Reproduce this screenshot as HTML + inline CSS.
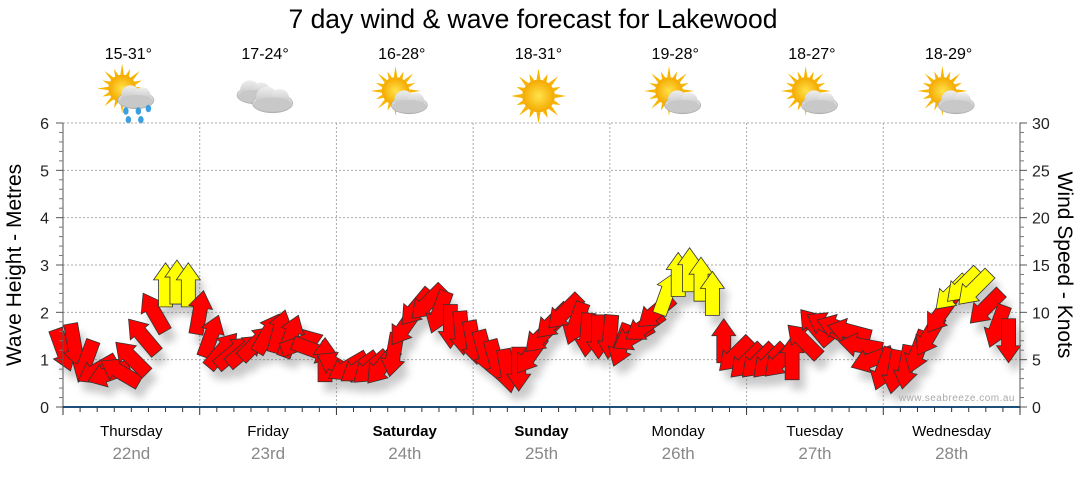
<!DOCTYPE html>
<html><head><meta charset="utf-8">
<style>
body{margin:0;background:#fff;width:1080px;height:475px;overflow:hidden;font-family:"Liberation Sans","DejaVu Sans",sans-serif;}
svg text{font-family:"Liberation Sans","DejaVu Sans",sans-serif;}
</style></head>
<body>
<svg id="chart" width="1080" height="475" xmlns="http://www.w3.org/2000/svg">
<defs>
<filter id="sh" x="-50%" y="-50%" width="200%" height="200%"><feGaussianBlur stdDeviation="4"/></filter>
<radialGradient id="sunG"><stop offset="0" stop-color="#ffe34a"/><stop offset="1" stop-color="#f5a800"/></radialGradient>
<linearGradient id="cloudG" x1="0" y1="0" x2="0" y2="1"><stop offset="0" stop-color="#eeeeee"/><stop offset="1" stop-color="#b8b8b8"/></linearGradient>
</defs>
<text x="533" y="28" text-anchor="middle" font-size="26.5" fill="#000">7 day wind &amp; wave forecast for Lakewood</text>
<g id="header"></g>
<g id="grid"></g>
<g id="shadows" filter="url(#sh)" opacity="0.35"></g>
<g id="arrows"></g>
<g id="axes"></g>
<text x="1015" y="401" text-anchor="end" font-size="10" fill="#aaa" letter-spacing="0.5">www.seabreeze.com.au</text>
<text transform="translate(21,265) rotate(-90)" text-anchor="middle" font-size="21" fill="#000">Wave Height - Metres</text>
<text transform="translate(1058,265) rotate(90)" text-anchor="middle" font-size="21" fill="#000">Wind Speed - Knots</text>
</svg>
<script>
const dayNames=["Thursday","Friday","Saturday","Sunday","Monday","Tuesday","Wednesday"];
const dayDates=["22nd","23rd","24th","25th","26th","27th","28th"];
const dayBold=[false,false,true,true,false,false,false];
const tempRanges=["15-31°","17-24°","16-28°","18-31°","19-28°","18-27°","18-29°"];
const weatherIcons=["sun-rain","cloud","sun-cloud","sun","sun-cloud","sun-cloud","sun-cloud"];
const leftTicks=[0,1,2,3,4,5,6];
const rightTicks=[0,5,10,15,20,25,30];
// wind speed (knots) every 2 hours from Thursday 00:00
const windSpeed=[6.0,6.5,4.8,3.9,3.5,3.7,5.2,7.5,10.0,12.9,13.2,12.9,
 10.0,7.5,6.0,5.8,6.0,6.8,7.8,8.0,7.5,6.8,6.0,5.0,
 4.4,4.2,4.1,4.1,4.3,5.5,8.5,10.5,11.0,10.0,8.5,7.8,
 6.8,5.8,4.8,3.8,4.0,5.5,7.5,9.0,10.0,8.8,7.6,7.4,
 7.4,6.5,7.4,8.5,10.0,12.0,14.0,14.5,13.5,12.0,7.0,5.5,
 4.8,4.8,4.8,4.9,5.2,7.0,8.5,8.6,8.4,8.0,6.5,5.0,
 4.0,3.7,4.2,5.8,7.5,9.8,12.0,12.8,12.5,10.5,8.5,7.0];
// arrow pointing direction (degrees clockwise from up)
const windDir=[160,170,200,240,250,300,315,320,330,0,0,0,
 10,20,40,50,50,45,30,15,20,70,110,0,
 300,240,235,230,220,190,215,220,225,200,180,175,
 170,165,165,170,180,215,225,225,225,200,185,180,
 185,200,240,235,230,20,0,0,0,0,0,225,
 225,225,225,225,0,315,320,300,290,285,280,250,
 200,190,190,200,210,215,225,225,225,225,200,180];

const X0=63,X1=1020,Y0=407,Y1=123,HOURS=168,STEP=2;
const xScale=h=>X0+(X1-X0)*h/HOURS;
const yLeft=m=>Y0-(Y0-Y1)*m/6;
const yRight=k=>Y0-(Y0-Y1)*k/30;
const NS="http://www.w3.org/2000/svg";
function mk(tag,attrs,parent){const e=document.createElementNS(NS,tag);for(const k in attrs)e.setAttribute(k,attrs[k]);parent.appendChild(e);return e;}

const grid=document.getElementById('grid'),axes=document.getElementById('axes'),header=document.getElementById('header');
leftTicks.forEach(v=>{if(v===0)return;const l=mk('line',{x1:X0,x2:X1,y1:yLeft(v),y2:yLeft(v),stroke:'#aaa','stroke-dasharray':'2,2'},grid);

});
for(let d=1;d<7;d++){const x=xScale(d*24);const l=mk('line',{x1:x,x2:x,y1:Y1,y2:Y0,stroke:'#aaa','stroke-dasharray':'2,2'},grid);

}
mk('line',{x1:X0,x2:X0,y1:Y1,y2:Y0,stroke:'#555'},axes);
mk('line',{x1:X1,x2:X1,y1:Y1,y2:Y0,stroke:'#555'},axes);
mk('line',{x1:X0,x2:X1,y1:Y0,y2:Y0,stroke:'#1d4f7a','stroke-width':2},axes);
leftTicks.forEach(v=>{const y=yLeft(v);mk('line',{x1:X0-7,x2:X0,y1:y,y2:y,stroke:'#555'},axes);
const t=mk('text',{x:X0-14,y:y+6,'text-anchor':'end','font-size':16,fill:'#222'},axes);t.textContent=v;

});
for(let i=1;i<30;i++){if(i%5===0)continue;const y=yLeft(i/5);mk('line',{x1:X0-4,x2:X0,y1:y,y2:y,stroke:'#777'},axes);mk('line',{x1:X1,x2:X1+4,y1:yRight(i),y2:yRight(i),stroke:'#777'},axes);}
rightTicks.forEach(v=>{const y=yRight(v);mk('line',{x1:X1,x2:X1+7,y1:y,y2:y,stroke:'#555'},axes);
const t=mk('text',{x:X1+12,y:y+6,'font-size':16,fill:'#222'},axes);t.textContent=v;

});
for(let h=0;h<=HOURS;h+=3){const x=xScale(h);mk('line',{x1:x,x2:x,y1:Y0,y2:Y0+(h%24===0?8:5),stroke:'#333'},axes);}
dayNames.forEach((n,i)=>{const cx=xScale(i*24+12);
const t=mk('text',{x:cx,y:436,'text-anchor':'middle','font-size':15,fill:'#000','font-weight':dayBold[i]?'bold':'normal'},header);t.textContent=n;


const d=mk('text',{x:cx,y:459,'text-anchor':'middle','font-size':17,fill:'#888'},header);d.textContent=dayDates[i];


const tt=mk('text',{x:cx-3,y:59,'text-anchor':'middle','font-size':16,fill:'#000'},header);tt.textContent=tempRanges[i];


const g=mk('g',{transform:`translate(${cx-3},96) scale(1.25)`},header);


drawIcon(g,weatherIcons[i]);});
function drawIcon(g,type){
 const sun=(ox,oy,r)=>{for(let a=0;a<360;a+=22.5){const rad=a*Math.PI/180;const r2=(a/22.5)%2?r+6:r+9;
  mk('polygon',{points:`${ox+Math.cos(rad)*r2},${oy+Math.sin(rad)*r2} ${ox+Math.cos(rad+0.13)*r},${oy+Math.sin(rad+0.13)*r} ${ox+Math.cos(rad-0.13)*r},${oy+Math.sin(rad-0.13)*r}`,fill:'#f7b500'},g);}
  mk('circle',{cx:ox,cy:oy,r:r,fill:'url(#sunG)'},g);};
 const cloud=(ox,oy,s)=>{mk('ellipse',{cx:ox,cy:oy+4*s,rx:17*s,ry:8*s,fill:'url(#cloudG)',stroke:'#aaa','stroke-width':0.5},g);
  mk('circle',{cx:ox-5*s,cy:oy-1*s,r:9*s,fill:'url(#cloudG)'},g);mk('circle',{cx:ox+6*s,cy:oy,r:8*s,fill:'url(#cloudG)'},g);
  mk('ellipse',{cx:ox,cy:oy+5*s,rx:16*s,ry:6*s,fill:'#c8c8c8'},g);};
 if(type==='sun'){sun(0,0,13);}
 else if(type==='cloud'){cloud(-8,-4,0.85);cloud(6,2,0.95);}
 else if(type==='sun-cloud'){sun(-5,-4,11);cloud(6,4,0.85);}
 else if(type==='sun-rain'){sun(-5,-6,11);cloud(6,0,0.85);[[-2,12],[8,12],[16,10],[0,19],[10,19]].forEach(p=>mk('ellipse',{cx:p[0],cy:p[1],rx:2.2,ry:3,fill:'#3aa0e0'},g));}
}
const arrowPts="0,-22 12,-5 7,-5 7,22 -7,22 -7,-5 -12,-5";
const sh=document.getElementById('shadows'),ar=document.getElementById('arrows');
windSpeed.forEach((k,i)=>{const x=xScale(i*STEP),y=yRight(k);
 mk('polygon',{points:arrowPts,transform:`translate(${x+6},${y+10}) rotate(${windDir[i]})`,fill:'#666'},sh);
 const p=mk('polygon',{points:arrowPts,transform:`translate(${x},${y}) rotate(${windDir[i]})`,fill:k>=11.5?'#ffff00':'#ff0000',stroke:'#333','stroke-width':0.8},ar);
 
 });
</script>
</body></html>
